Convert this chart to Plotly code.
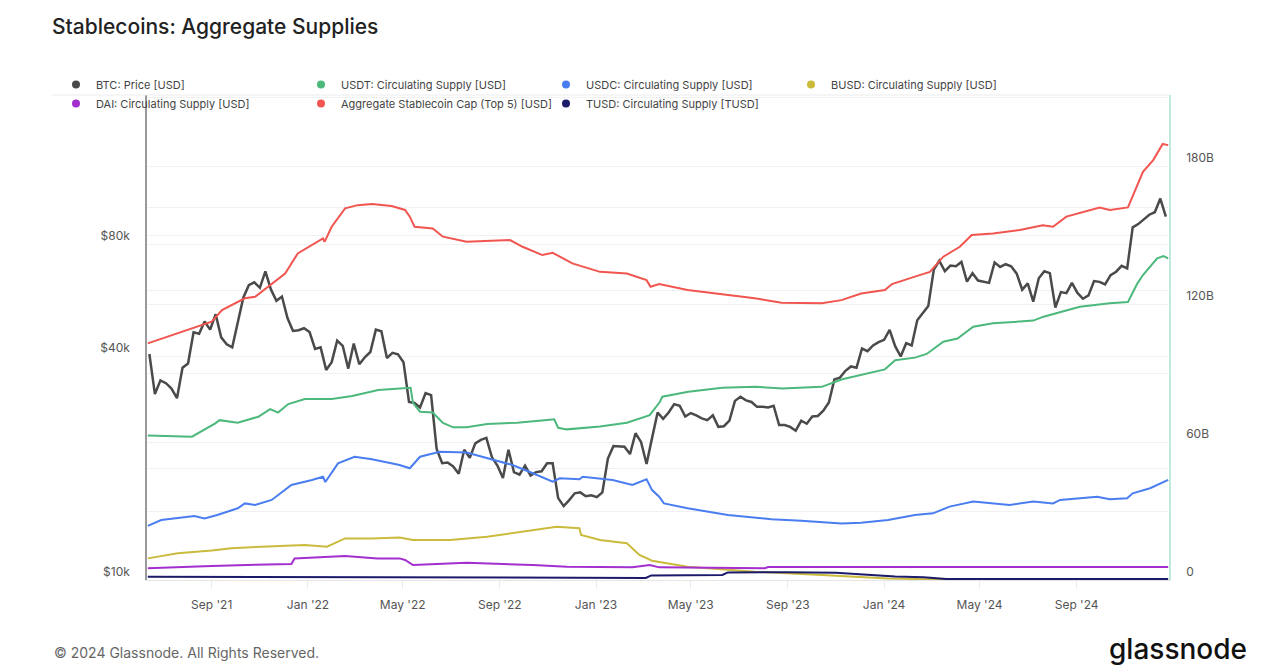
import pandas as pd
import plotly.graph_objects as go

# ---------------- DATA ----------------
title_text = "Stablecoins: Aggregate Supplies"

# BTC price, weekly samples (USD) starting 2021-06-14
btc_start = "2021-06-14"
btc_price = [
    # 2021
    40500, 31600, 34400, 33800, 32700, 30800, 37200, 38200, 46300, 45900, 49500, 47100,
    51800, 44900, 43000, 42200, 49200, 57400, 62000, 63100, 61000, 67500, 60400, 56300,
    57800, 50600, 46700, 46900, 47500,
    # 2022
    46400, 41800, 42200, 36700, 38500, 44000, 42600, 37000, 43200, 38000, 39700, 41000,
    47100, 46600, 39500, 40800, 40400, 38500, 30100, 29900, 29100, 31800, 31400, 22500,
    20600, 20700, 20200, 19300, 22400, 21300, 23300, 23800, 24100, 21400, 20300, 18800,
    22400, 19500, 19200, 20300, 19100, 19500, 19600, 20600, 20600, 16600, 15800, 16400,
    17100, 17200, 16800, 16900,
    # 2023
    16700, 17200, 21200, 22900, 22800, 22800, 21800, 24800, 23500, 20500, 24100, 28200,
    27100, 28200, 29700, 29400, 27500, 28100, 27700, 27200, 26900, 27700, 25800, 25900,
    26800, 30300, 31100, 30400, 30100, 29200, 29200, 29100, 29400, 26100, 26100, 25800,
    25200, 26800, 26300, 27500, 27600, 28500, 30000, 34600, 35000, 36500, 37500, 37200,
    41900, 41200, 42700, 43600,
    # 2024
    44200, 47000, 42500, 39900, 43300, 42700, 49900, 52100, 54500, 68300, 72100, 67600,
    70000, 69700, 71600, 63400, 66800, 63800, 63200, 62900, 71400, 69400, 70600, 69700,
    66600, 60300, 62700, 56000, 64700, 67600, 66800, 54000, 59400, 59000, 62900, 59100,
    57000, 58200, 63600, 63300, 62300, 66000, 67400, 69900, 68800, 88700, 90500, 93000,
    95900, 97400, 106000, 94800,
]

# Stablecoin supplies (billions USD)
usdt_dates = ["2021-06-12", "2021-08-07", "2021-09-05", "2021-09-11", "2021-10-04", "2021-10-30",
              "2021-11-14", "2021-11-24", "2021-12-07", "2021-12-28", "2022-01-31", "2022-02-26",
              "2022-03-31", "2022-05-04", "2022-05-11", "2022-05-14", "2022-05-23", "2022-06-08",
              "2022-06-21", "2022-07-04", "2022-07-21", "2022-08-16", "2022-09-23", "2022-10-31",
              "2022-11-09", "2022-11-14", "2022-11-25", "2023-01-06", "2023-02-09", "2023-03-10",
              "2023-03-15", "2023-03-23", "2023-03-26", "2023-04-28", "2023-06-10", "2023-07-22",
              "2023-08-25", "2023-10-14", "2023-11-09", "2023-12-12", "2024-01-02", "2024-01-15",
              "2024-02-09", "2024-02-24", "2024-03-16", "2024-04-03", "2024-04-23", "2024-05-18",
              "2024-07-08", "2024-07-21", "2024-08-20", "2024-09-05", "2024-10-13", "2024-11-05",
              "2024-11-17", "2024-11-24", "2024-12-12", "2024-12-20", "2024-12-26"]
usdt_supply = [62.8, 62.3, 68.0, 69.5, 68.4, 71.0,
               74.3, 72.8, 76.5, 78.7, 78.7, 80.0,
               82.6, 83.6, 83.6, 77.0, 73.2, 72.8,
               68.3, 66.4, 66.4, 67.8, 68.4, 69.6,
               69.9, 66.2, 65.5, 66.7, 68.4, 71.7,
               73.9, 77.5, 79.7, 81.9, 83.6, 84.0,
               83.3, 84.0, 87.3, 90.1, 91.6, 95.6,
               96.7, 98.3, 103.6, 105.0, 110.1, 111.6,
               112.8, 114.5, 117.4, 118.8, 120.3, 120.9,
               129.0, 132.6, 139.9, 140.9, 139.9]

usdc_dates = ["2021-06-12", "2021-06-29", "2021-08-10", "2021-08-23", "2021-09-08", "2021-10-04",
              "2021-10-13", "2021-10-26", "2021-11-16", "2021-11-24", "2021-12-11", "2022-01-06",
              "2022-01-20", "2022-01-23", "2022-02-08", "2022-03-01", "2022-03-23", "2022-04-27",
              "2022-05-10", "2022-05-23", "2022-06-17", "2022-07-21", "2022-08-23", "2022-09-17",
              "2022-10-13", "2022-11-07", "2022-11-16", "2022-12-11", "2022-12-15", "2023-01-22",
              "2023-02-16", "2023-03-06", "2023-03-13", "2023-03-22", "2023-03-28", "2023-04-27",
              "2023-06-17", "2023-08-11", "2023-09-18", "2023-11-08", "2023-12-03", "2024-01-06",
              "2024-02-09", "2024-03-03", "2024-03-24", "2024-04-23", "2024-06-08", "2024-07-08",
              "2024-08-02", "2024-08-11", "2024-09-27", "2024-10-13", "2024-11-04", "2024-11-11",
              "2024-12-03", "2024-12-26"]
usdc_supply = [23.5, 26.1, 27.8, 26.8, 28.3, 31.2,
               33.3, 32.6, 34.8, 37.0, 41.3, 43.5,
               44.9, 42.6, 50.7, 53.6, 52.5, 50.0,
               48.6, 53.6, 55.8, 55.4, 52.2, 50.0,
               46.4, 42.8, 44.2, 43.8, 44.9, 43.5,
               41.3, 43.8, 39.1, 36.2, 33.3, 31.2,
               28.3, 26.4, 25.8, 24.6, 24.9, 26.1,
               28.3, 29.0, 31.9, 34.1, 32.6, 34.1,
               33.3, 34.8, 36.2, 35.1, 35.5, 37.7,
               39.9, 43.5]

busd_dates = ["2021-06-12", "2021-07-20", "2021-09-01", "2021-09-26", "2021-11-03", "2021-12-28",
              "2022-01-25", "2022-02-17", "2022-03-23", "2022-04-27", "2022-05-14", "2022-06-30",
              "2022-08-16", "2022-10-13", "2022-11-12", "2022-12-11", "2022-12-13", "2023-01-06",
              "2023-02-09", "2023-02-25", "2023-03-13", "2023-04-27", "2023-07-21", "2023-10-14",
              "2024-01-06", "2024-03-24"]
busd_supply = [9.4, 11.6, 12.8, 13.8, 14.5, 15.2,
               14.5, 18.1, 18.1, 18.5, 17.4, 17.4,
               18.8, 21.7, 23.2, 22.5, 19.6, 17.4,
               16.0, 10.9, 8.4, 5.8, 3.6, 2.2,
               0.7, 0.1]

dai_dates = ["2021-06-12", "2021-09-01", "2021-12-11", "2021-12-15", "2022-02-17", "2022-03-30",
             "2022-04-27", "2022-05-04", "2022-05-14", "2022-07-21", "2022-10-13", "2022-11-25",
             "2023-02-16", "2023-03-10", "2023-03-22", "2023-08-03", "2023-08-07", "2024-12-26"]
dai_supply = [5.1, 6.1, 7.0, 9.4, 10.4, 9.4,
              9.4, 8.7, 6.5, 7.5, 6.5, 5.8,
              5.5, 6.5, 5.5, 5.1, 5.6, 5.6]

agg_dates = ["2021-06-12", "2021-07-20", "2021-09-01", "2021-09-14", "2021-10-13", "2021-10-26",
             "2021-11-16", "2021-12-03", "2021-12-19", "2022-01-06", "2022-01-20", "2022-01-22",
             "2022-01-31", "2022-02-17", "2022-03-05", "2022-03-23", "2022-04-17", "2022-05-04",
             "2022-05-10", "2022-05-16", "2022-06-08", "2022-06-21", "2022-07-21", "2022-09-14",
             "2022-09-30", "2022-10-25", "2022-11-07", "2022-12-02", "2023-01-06", "2023-02-09",
             "2023-03-06", "2023-03-11", "2023-03-22", "2023-04-27", "2023-06-17", "2023-07-21",
             "2023-08-24", "2023-10-14", "2023-11-08", "2023-12-03", "2024-01-02", "2024-01-11",
             "2024-02-09", "2024-02-28", "2024-03-16", "2024-04-06", "2024-04-21", "2024-05-18",
             "2024-06-21", "2024-07-20", "2024-08-02", "2024-08-19", "2024-09-30", "2024-10-13",
             "2024-11-05", "2024-11-16", "2024-11-24", "2024-12-07", "2024-12-19", "2024-12-26"]
agg_supply = [102.9, 107.2, 112.3, 117.4, 122.5, 123.2,
              129.0, 133.3, 142.0, 145.7, 148.5, 147.0,
              153.6, 161.6, 163.0, 163.5, 162.6, 160.9,
              158.0, 153.6, 152.9, 149.3, 147.1, 147.8,
              144.9, 141.3, 142.3, 137.7, 134.0, 133.3,
              130.4, 127.5, 128.7, 126.1, 123.9, 122.5,
              120.6, 120.3, 121.7, 124.6, 126.1, 128.7,
              131.9, 134.0, 140.6, 144.9, 150.0, 150.7,
              152.2, 154.3, 153.6, 158.0, 162.0, 160.9,
              162.0, 171.0, 177.5, 182.6, 189.6, 189.1]

tusd_dates = ["2021-06-12", "2021-12-01", "2022-06-01", "2022-10-01", "2023-01-15", "2023-03-05",
              "2023-03-12", "2023-06-10", "2023-06-17", "2023-09-01", "2023-11-01", "2023-12-10",
              "2024-01-15", "2024-02-20", "2024-03-20", "2024-12-26"]
tusd_supply = [1.4, 1.3, 1.1, 0.9, 0.8, 0.9,
               2.0, 2.2, 3.3, 3.4, 3.1, 2.3,
               1.5, 1.2, 0.4, 0.4]

x_tick_dates = ["2021-09-01", "2022-01-01", "2022-05-01", "2022-09-01", "2023-01-01",
                "2023-05-01", "2023-09-01", "2024-01-01", "2024-05-01", "2024-09-01"]
x_tick_labels = ["Sep '21", "Jan '22", "May '22", "Sep '22", "Jan '23",
                 "May '23", "Sep '23", "Jan '24", "May '24", "Sep '24"]

left_tick_vals = [10000, 20000, 40000, 60000, 80000, 100000]
left_tick_text = ["$10k", "", "$40k", "", "$80k", ""]
right_tick_vals = [0, 30, 60, 90, 120, 150, 180, 210]
right_tick_text = ["0", "", "60B", "", "120B", "", "180B", ""]

names = {
    "btc": "BTC: Price [USD]",
    "usdt": "USDT: Circulating Supply [USD]",
    "usdc": "USDC: Circulating Supply [USD]",
    "busd": "BUSD: Circulating Supply [USD]",
    "dai": "DAI: Circulating Supply [USD]",
    "agg": "Aggregate Stablecoin Cap (Top 5) [USD]",
    "tusd": "TUSD: Circulating Supply [TUSD]",
}

# ---------------- STYLE ----------------
colors = {
    "btc": "#4a4a4a",
    "usdt": "#4cb87c",
    "usdc": "#4a7ef0",
    "busd": "#cbbb3d",
    "dai": "#a42fcf",
    "agg": "#f0554f",
    "tusd": "#1c1b6b",
}

W, H = 1266, 672
ML, MR, MT, MB = 147, 97, 95, 92
PW, PH = W - ML - MR, H - MT - MB


def px_x(px):
    return (px - ML) / PW


def px_y(py):
    return (H - MB - py) / PH


btc_dates = pd.date_range(btc_start, periods=len(btc_price), freq="7D")

fig = go.Figure()
fig.add_trace(go.Scatter(x=btc_dates, y=btc_price, mode="lines", yaxis="y",
                         line=dict(color=colors["btc"], width=2.5), showlegend=False,
                         name=names["btc"]))

series = [
    ("usdt", usdt_dates, usdt_supply),
    ("usdc", usdc_dates, usdc_supply),
    ("busd", busd_dates, busd_supply),
    ("dai", dai_dates, dai_supply),
    ("agg", agg_dates, agg_supply),
    ("tusd", tusd_dates, tusd_supply),
]
for key, d, v in series:
    fig.add_trace(go.Scatter(x=pd.to_datetime(d), y=v, mode="lines", yaxis="y2",
                             line=dict(color=colors[key], width=2), showlegend=False,
                             name=names[key]))

# legend entries (dots), in reference order (wraps after 4 entries)
legend_order = ["btc", "usdt", "usdc", "busd", "dai", "agg", "tusd"]
for key in legend_order:
    fig.add_trace(go.Scatter(x=[None], y=[None], mode="markers", name=names[key],
                             marker=dict(color=colors[key], size=8)))

fig.update_layout(
    width=W, height=H,
    margin=dict(l=ML, r=MR, t=MT, b=MB, pad=0),
    paper_bgcolor="white", plot_bgcolor="white",
    font=dict(family="Inter, sans-serif", size=12, color="#555"),
    title=dict(text=title_text, x=52 / W, xanchor="left", y=1 - 27 / H, yanchor="middle",
               font=dict(family="Inter, sans-serif", size=21, color="#222", weight=500)),
    legend=dict(orientation="h", x=px_x(56), y=px_y(94), xanchor="left", yanchor="middle",
                entrywidth=200, entrywidthmode="pixels",
                font=dict(family="Inter, sans-serif", size=11, color="#444"),
                bgcolor="rgba(0,0,0,0)", itemclick=False, itemdoubleclick=False,
                tracegroupgap=0),
    xaxis=dict(type="date", range=["2021-06-11", "2024-12-27"],
               tickvals=x_tick_dates, ticktext=x_tick_labels,
               showgrid=False, zeroline=False,
               ticks="outside", ticklen=8, tickcolor="#ececec",
               showline=True, linecolor="#e6e6e6", linewidth=1,
               ticklabelstandoff=6,
               tickfont=dict(size=12, color="#555")),
    yaxis=dict(type="log", range=[4, 5.3036],
               tickvals=left_tick_vals, ticktext=left_tick_text,
               showgrid=True, gridcolor="#f1f1f1", gridwidth=1, zeroline=False,
               showline=True, linecolor="#9a9a9a", linewidth=1.5,
               ticks="", ticklabelposition="outside top", ticklabelstandoff=13,
               tickfont=dict(size=12, color="#555")),
    yaxis2=dict(overlaying="y", side="right", range=[0, 210.9],
                tickvals=right_tick_vals, ticktext=right_tick_text,
                showgrid=True, gridcolor="#f1f1f1", gridwidth=1, zeroline=False,
                showline=True, linecolor="#bfe9d9", linewidth=1.5,
                ticks="", ticklabelposition="outside top", ticklabelstandoff=13,
                tickfont=dict(size=12, color="#555")),
    shapes=[dict(type="line", xref="paper", yref="paper", x0=px_x(52), x1=1, y0=1, y1=1,
                 line=dict(color="#ececec", width=1))],
    annotations=[
        dict(text="© 2024 Glassnode. All Rights Reserved.", xref="paper", yref="paper",
             x=px_x(52), y=px_y(652), xanchor="left", yanchor="middle", showarrow=False,
             font=dict(family="Inter, sans-serif", size=14, color="#666")),
        dict(text="glassnode", xref="paper", yref="paper",
             x=px_x(1249), y=px_y(649), xanchor="right", yanchor="middle", showarrow=False,
             font=dict(family="Inter, sans-serif", size=28, color="#111", weight=500)),
    ],
)

fig.write_html("out.html", config={"displayModeBar": False},
               post_script="document.body.style.margin='0';")
